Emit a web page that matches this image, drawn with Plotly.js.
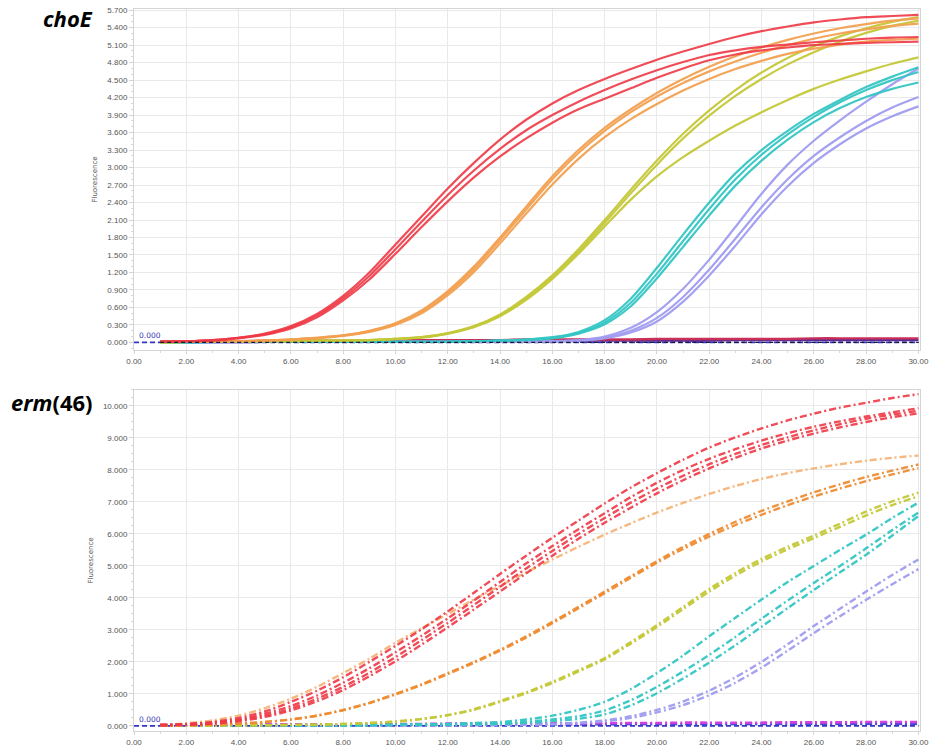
<!DOCTYPE html>
<html>
<head>
<meta charset="utf-8">
<script src="https://cdn.plot.ly/plotly-3.0.1.min.js"></script>
<style>html,body{margin:0;padding:0;background:#fff;}#chart{width:929px;height:748px;}</style>
</head>
<body>
<div id="chart"></div>
<script>
// ---------- data ----------
const cycles = [1,2,3,4,5,6,7,8,9,10,11,12,13,14,15,16,17,18,19,20,21,22,23,24,25,26,27,28,29,30];

// choE (top panel)
const choE_red1 = [0.01,0.02,0.04,0.08,0.15,0.28,0.49,0.80,1.20,1.68,2.16,2.64,3.08,3.48,3.82,4.10,4.33,4.52,4.69,4.85,4.99,5.12,5.24,5.34,5.42,5.49,5.54,5.58,5.60,5.62];
const choE_red2 = [0.01,0.02,0.04,0.08,0.14,0.26,0.46,0.76,1.14,1.60,2.07,2.53,2.95,3.32,3.64,3.90,4.13,4.33,4.51,4.67,4.81,4.93,5.01,5.07,5.11,5.15,5.18,5.21,5.23,5.24];
const choE_red3 = [0.01,0.02,0.03,0.07,0.13,0.24,0.43,0.72,1.08,1.52,1.98,2.42,2.83,3.19,3.50,3.77,4.00,4.18,4.36,4.54,4.70,4.84,4.94,5.01,5.06,5.10,5.12,5.14,5.15,5.16];
const choE_or1 = [0.01,0.01,0.02,0.02,0.03,0.05,0.08,0.12,0.20,0.33,0.55,0.88,1.30,1.80,2.33,2.85,3.30,3.68,4.00,4.28,4.52,4.73,4.91,5.06,5.19,5.30,5.39,5.46,5.52,5.56];
const choE_or2 = [0.01,0.01,0.02,0.02,0.03,0.05,0.08,0.12,0.19,0.32,0.53,0.85,1.26,1.76,2.28,2.80,3.25,3.63,3.95,4.22,4.45,4.65,4.82,4.97,5.10,5.21,5.30,5.37,5.43,5.47];
const choE_or3 = [0.01,0.01,0.02,0.02,0.03,0.05,0.07,0.11,0.18,0.30,0.50,0.81,1.21,1.70,2.21,2.71,3.15,3.52,3.83,4.09,4.32,4.52,4.69,4.83,4.95,5.04,5.11,5.16,5.19,5.21];
const choE_ye1 = [0.00,0.01,0.01,0.01,0.02,0.02,0.03,0.03,0.04,0.06,0.09,0.16,0.28,0.48,0.78,1.15,1.60,2.10,2.62,3.12,3.58,3.98,4.33,4.63,4.88,5.08,5.25,5.39,5.50,5.58];
const choE_ye2 = [0.00,0.01,0.01,0.01,0.02,0.02,0.03,0.03,0.04,0.06,0.09,0.15,0.27,0.46,0.75,1.12,1.56,2.05,2.56,3.05,3.50,3.89,4.23,4.52,4.77,4.98,5.16,5.31,5.43,5.52];
const choE_ye3 = [0.00,0.01,0.01,0.01,0.02,0.02,0.03,0.03,0.04,0.06,0.08,0.15,0.26,0.45,0.73,1.09,1.52,1.99,2.45,2.85,3.18,3.46,3.72,3.95,4.16,4.35,4.51,4.65,4.78,4.89];
const choE_cy1 = [0.00,0.00,0.01,0.01,0.01,0.01,0.01,0.01,0.01,0.01,0.01,0.01,0.02,0.03,0.05,0.09,0.18,0.38,0.75,1.28,1.85,2.40,2.90,3.30,3.63,3.92,4.16,4.38,4.56,4.72];
const choE_cy2 = [0.00,0.00,0.01,0.01,0.01,0.01,0.01,0.01,0.01,0.01,0.01,0.01,0.02,0.03,0.05,0.08,0.16,0.34,0.68,1.18,1.74,2.29,2.80,3.22,3.57,3.87,4.12,4.33,4.50,4.64];
const choE_cy3 = [0.00,0.00,0.01,0.01,0.01,0.01,0.01,0.01,0.01,0.01,0.01,0.01,0.02,0.03,0.04,0.07,0.15,0.31,0.62,1.10,1.64,2.18,2.69,3.12,3.48,3.78,4.02,4.21,4.35,4.46];
const choE_lv1 = [0.00,0.00,0.00,0.00,0.01,0.01,0.01,0.01,0.01,0.01,0.01,0.01,0.01,0.01,0.01,0.02,0.04,0.10,0.25,0.52,0.92,1.42,1.98,2.55,3.05,3.46,3.81,4.13,4.43,4.70];
const choE_lv2 = [0.00,0.00,0.00,0.00,0.01,0.01,0.01,0.01,0.01,0.01,0.01,0.01,0.01,0.01,0.01,0.02,0.03,0.08,0.20,0.42,0.78,1.25,1.78,2.32,2.80,3.20,3.52,3.80,4.03,4.21];
const choE_lv3 = [0.00,0.00,0.00,0.00,0.01,0.01,0.01,0.01,0.01,0.01,0.01,0.01,0.01,0.01,0.01,0.02,0.03,0.07,0.17,0.36,0.70,1.15,1.66,2.20,2.68,3.08,3.40,3.67,3.88,4.05];
const choE_ntcA = [0.02,0.02,0.02,0.02,0.03,0.03,0.03,0.03,0.03,0.04,0.04,0.04,0.04,0.04,0.05,0.05,0.05,0.05,0.05,0.06,0.06,0.06,0.06,0.06,0.06,0.07,0.07,0.07,0.07,0.07];
const choE_ntcB = [0.01,0.01,0.01,0.01,0.01,0.01,0.02,0.02,0.02,0.02,0.02,0.02,0.02,0.02,0.03,0.03,0.03,0.03,0.03,0.03,0.03,0.03,0.04,0.04,0.04,0.04,0.04,0.04,0.04,0.04];

// erm(46) (bottom panel)
const erm_red1 = [0.03,0.06,0.12,0.25,0.45,0.75,1.10,1.52,2.00,2.50,3.02,3.58,4.16,4.75,5.32,5.88,6.42,6.95,7.45,7.90,8.32,8.70,9.02,9.30,9.55,9.76,9.95,10.10,10.25,10.37];
const erm_red2 = [0.03,0.05,0.10,0.20,0.38,0.62,0.95,1.35,1.80,2.30,2.82,3.36,3.92,4.50,5.08,5.62,6.15,6.65,7.15,7.60,8.00,8.35,8.65,8.92,9.15,9.35,9.52,9.67,9.80,9.93];
const erm_red3 = [0.02,0.04,0.08,0.17,0.32,0.54,0.85,1.22,1.66,2.15,2.68,3.22,3.78,4.35,4.92,5.47,6.00,6.50,6.98,7.42,7.82,8.18,8.50,8.78,9.02,9.24,9.43,9.60,9.73,9.85];
const erm_red4 = [0.02,0.03,0.07,0.14,0.28,0.48,0.77,1.12,1.55,2.02,2.54,3.08,3.64,4.20,4.77,5.32,5.85,6.35,6.82,7.27,7.68,8.05,8.38,8.67,8.92,9.14,9.33,9.50,9.65,9.77];
const erm_pch1 = [0.03,0.08,0.17,0.32,0.55,0.85,1.22,1.65,2.10,2.60,3.05,3.50,3.95,4.38,4.80,5.20,5.60,5.98,6.33,6.67,6.97,7.25,7.50,7.72,7.90,8.05,8.18,8.29,8.38,8.45];
const erm_or1 = [0.01,0.02,0.04,0.07,0.12,0.20,0.32,0.50,0.72,1.00,1.30,1.65,2.00,2.38,2.80,3.25,3.72,4.20,4.68,5.15,5.60,6.00,6.38,6.72,7.02,7.30,7.55,7.78,7.98,8.17];
const erm_or2 = [0.01,0.02,0.04,0.07,0.12,0.20,0.32,0.49,0.71,0.98,1.28,1.62,1.97,2.35,2.76,3.21,3.68,4.15,4.63,5.10,5.53,5.92,6.28,6.60,6.90,7.17,7.42,7.65,7.86,8.06];
const erm_ye1 = [0.00,0.01,0.01,0.02,0.02,0.03,0.04,0.06,0.09,0.14,0.22,0.34,0.52,0.78,1.05,1.38,1.74,2.12,2.62,3.15,3.72,4.28,4.78,5.22,5.60,5.95,6.32,6.70,7.02,7.29];
const erm_ye2 = [0.00,0.01,0.01,0.02,0.02,0.03,0.04,0.06,0.09,0.13,0.21,0.33,0.50,0.75,1.02,1.34,1.70,2.08,2.57,3.09,3.65,4.20,4.70,5.14,5.52,5.87,6.22,6.58,6.90,7.18];
const erm_cy1 = [0.00,0.00,0.01,0.01,0.01,0.01,0.02,0.02,0.03,0.04,0.05,0.06,0.09,0.12,0.20,0.32,0.50,0.75,1.15,1.65,2.20,2.80,3.38,3.95,4.50,5.00,5.50,5.98,6.50,6.98];
const erm_cy2 = [0.00,0.00,0.01,0.01,0.01,0.01,0.02,0.02,0.02,0.03,0.04,0.05,0.06,0.08,0.13,0.20,0.30,0.48,0.80,1.22,1.70,2.22,2.78,3.35,3.92,4.47,5.00,5.55,6.12,6.67];
const erm_cy3 = [0.00,0.00,0.01,0.01,0.01,0.01,0.02,0.02,0.02,0.03,0.03,0.04,0.05,0.06,0.10,0.15,0.22,0.36,0.64,1.02,1.48,1.98,2.52,3.10,3.68,4.25,4.80,5.35,5.95,6.56];
const erm_lv1 = [0.00,0.00,0.00,0.01,0.01,0.01,0.01,0.01,0.01,0.02,0.02,0.02,0.03,0.03,0.04,0.06,0.10,0.17,0.30,0.50,0.76,1.10,1.52,2.00,2.55,3.12,3.66,4.20,4.72,5.20];
const erm_lv2 = [0.00,0.00,0.00,0.01,0.01,0.01,0.01,0.01,0.01,0.02,0.02,0.02,0.02,0.03,0.03,0.05,0.08,0.14,0.25,0.42,0.65,0.96,1.35,1.82,2.35,2.90,3.43,3.94,4.43,4.90];
const erm_ntcA = [0.03,0.03,0.04,0.04,0.04,0.05,0.05,0.05,0.06,0.06,0.06,0.07,0.07,0.07,0.08,0.08,0.08,0.09,0.09,0.09,0.10,0.10,0.10,0.10,0.11,0.11,0.11,0.12,0.12,0.12];
const erm_ntcB = [0.02,0.02,0.02,0.03,0.03,0.03,0.03,0.03,0.04,0.04,0.04,0.04,0.04,0.05,0.05,0.05,0.05,0.05,0.06,0.06,0.06,0.06,0.06,0.06,0.07,0.07,0.07,0.07,0.07,0.07];

const thresholdX = [0, 30];
const thresholdY = [0, 0];

const xTicks = [0,2,4,6,8,10,12,14,16,18,20,22,24,26,28,30];

// ---------- styles ----------
const C = {
  red: 'rgba(238,56,70,0.9)', orange: 'rgba(242,160,80,0.95)', olive: 'rgba(196,200,56,0.95)',
  cyan: 'rgba(52,198,196,0.95)', lav: 'rgba(160,156,240,0.95)',
  peach: 'rgba(245,180,120,0.95)', magenta: '#d040e0', blue: '#3434c8', ntcTop: '#c83058', purple: '#5a2a9a'
};

function solid(y, color, w) {
  return {x: cycles, y: y, xaxis: 'x', yaxis: 'y', mode: 'lines', type: 'scatter',
    line: {color: color, width: w || 2.2, shape: 'spline', smoothing: 0.8}, hoverinfo: 'skip'};
}
function dd(y, color, w) {
  return {x: cycles, y: y, xaxis: 'x2', yaxis: 'y2', mode: 'lines', type: 'scatter',
    line: {color: color, width: w || 2.4, shape: 'spline', smoothing: 0.8, dash: '7px,3px,2px,3px'}, hoverinfo: 'skip'};
}

const traces = [
  // top flat lines
  {x: thresholdX, y: thresholdY, xaxis: 'x', yaxis: 'y', mode: 'lines', line: {color: C.blue, width: 1.6, dash: '5px,3px'}, hoverinfo: 'skip'},
  solid(choE_ntcB, C.purple, 2.4),
  solid(choE_ntcA, C.ntcTop, 2.4),
  solid(choE_lv1, C.lav), solid(choE_lv2, C.lav), solid(choE_lv3, C.lav),
  solid(choE_cy1, C.cyan), solid(choE_cy2, C.cyan), solid(choE_cy3, C.cyan),
  solid(choE_ye1, C.olive), solid(choE_ye2, C.olive), solid(choE_ye3, C.olive),
  solid(choE_or1, C.orange), solid(choE_or2, C.orange), solid(choE_or3, C.orange),
  solid(choE_red1, C.red), solid(choE_red2, C.red), solid(choE_red3, C.red),
  {x: [1, 30], y: thresholdY, xaxis: 'x', yaxis: 'y', mode: 'lines', line: {color: '#1a1a3a', width: 1.4, dash: '4px,3px'}, hoverinfo: 'skip'},

  // bottom
  {x: thresholdX, y: thresholdY, xaxis: 'x2', yaxis: 'y2', mode: 'lines', line: {color: C.blue, width: 1.6, dash: '5px,3px'}, hoverinfo: 'skip'},
  dd(erm_ntcB, '#4848d8', 2.6),
  dd(erm_ntcA, C.magenta, 2.6),
  dd(erm_lv1, C.lav), dd(erm_lv2, C.lav),
  dd(erm_cy1, C.cyan), dd(erm_cy2, C.cyan), dd(erm_cy3, C.cyan),
  dd(erm_ye1, C.olive), dd(erm_ye2, C.olive),
  dd(erm_or1, 'rgba(238,140,50,0.95)'), dd(erm_or2, 'rgba(238,140,50,0.95)'),
  dd(erm_pch1, C.peach),
  dd(erm_red1, C.red), dd(erm_red2, C.red), dd(erm_red3, C.red), dd(erm_red4, C.red)
];

const tickFont = {family: 'Liberation Sans, Arial, sans-serif', size: 8, color: '#555'};
const gridC = '#e9e9e9';
function xax(anchor) {
  return {anchor: anchor, range: [0, 30.06], tickvals: xTicks, tickformat: '.2f', tickfont: tickFont,
    showgrid: true, gridcolor: gridC, zeroline: false, showline: true, linecolor: '#d4d4d4', mirror: true,
    ticks: 'outside', ticklen: 3, tickcolor: '#d4d4d4', automargin: false, ticklabeloverflow: 'allow',
    minor: {ticks: 'outside', ticklen: 2, tickcolor: '#d8d8d8', dtick: 1, showgrid: false}};
}

const layout = {
  width: 929, height: 748,
  margin: {l: 134, r: 9, t: 9, b: 17},
  paper_bgcolor: '#fff', plot_bgcolor: '#fff',
  showlegend: false,
  xaxis: xax('y'),
  xaxis2: xax('y2'),
  yaxis: {domain: [0.5277, 1], range: [-0.13, 5.72], tick0: 0, dtick: 0.3, tickformat: '.3f', tickfont: tickFont,
    showgrid: true, gridcolor: gridC, zeroline: false, showline: true, linecolor: '#d4d4d4', mirror: true,
    ticks: 'outside', ticklen: 4, tickcolor: '#d4d4d4', automargin: false,
    minor: {ticks: 'outside', ticklen: 2, tickcolor: '#d8d8d8', dtick: 0.1, showgrid: false},
    title: {text: 'Fluorescence', font: {family: 'DejaVu Sans, sans-serif', size: 7, color: '#555'}, standoff: 8}},
  yaxis2: {domain: [0, 0.4723], range: [-0.16, 10.5], tick0: 0, dtick: 1, tickformat: '.3f', tickfont: tickFont,
    showgrid: true, gridcolor: gridC, zeroline: false, showline: true, linecolor: '#d4d4d4', mirror: true,
    ticks: 'outside', ticklen: 4, tickcolor: '#d4d4d4', automargin: false,
    minor: {ticks: 'outside', ticklen: 2, tickcolor: '#d8d8d8', dtick: 0.25, showgrid: false},
    title: {text: 'Fluorescence', font: {family: 'DejaVu Sans, sans-serif', size: 7, color: '#555'}, standoff: 8}},
  annotations: [
    {xref: 'paper', yref: 'paper', x: -0.0496, y: 0.9876, xanchor: 'right', yanchor: 'middle', showarrow: false,
      text: '<b><i>choE</i></b>', font: {family: 'Open Sans, sans-serif', size: 22, color: '#000'}},
    {xref: 'paper', yref: 'paper', x: -0.0496, y: 0.455, xanchor: 'right', yanchor: 'middle', showarrow: false,
      text: '<b><i>erm</i>(46)</b>', font: {family: 'Open Sans, sans-serif', size: 22, color: '#000'}},
    {xref: 'x', yref: 'y', x: 0.1, y: 0.0, xanchor: 'left', yanchor: 'bottom', showarrow: false,
      text: '0.000', font: {family: 'DejaVu Sans, sans-serif', size: 7.5, color: '#3434b4'}},
    {xref: 'x2', yref: 'y2', x: 0.1, y: 0.0, xanchor: 'left', yanchor: 'bottom', showarrow: false,
      text: '0.000', font: {family: 'DejaVu Sans, sans-serif', size: 7.5, color: '#3434b4'}}
  ]
};

Plotly.newPlot('chart', traces, layout, {staticPlot: true, displayModeBar: false});
</script>
</body>
</html>
